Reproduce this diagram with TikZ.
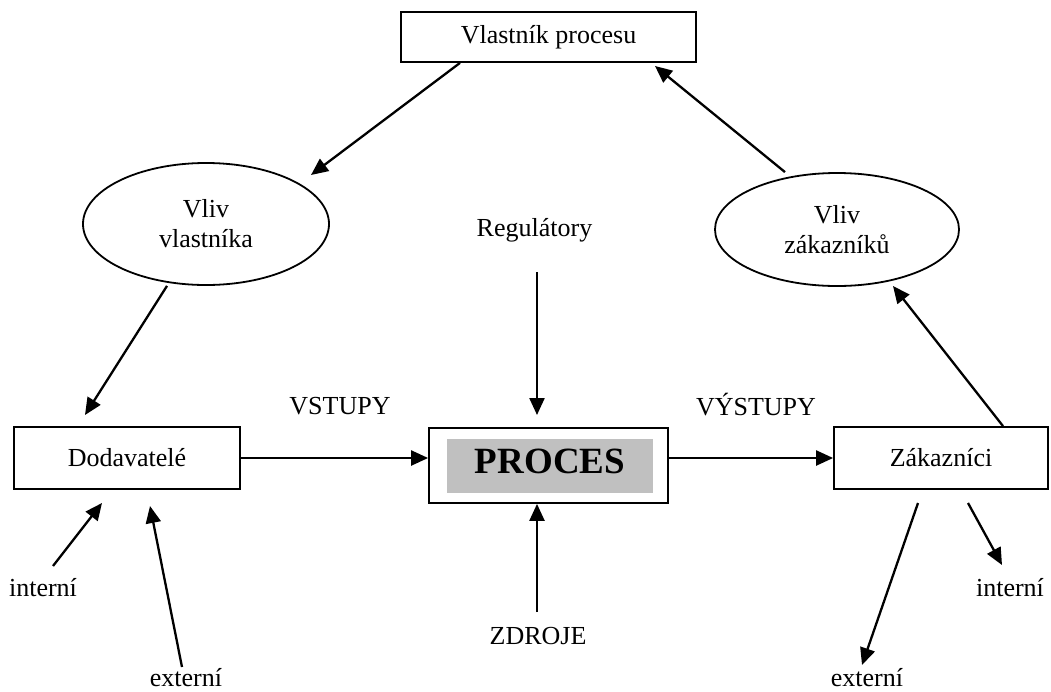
\documentclass[tikz,border=0pt]{standalone}
\usepackage{fontspec}
\setmainfont{Liberation Serif}
\usetikzlibrary{arrows.meta,shapes.geometric}
\definecolor{procgray}{HTML}{C0C0C0}
\begin{document}
\begin{tikzpicture}[x=1pt,y=-1pt,
  arr/.style={-{Triangle[length=17pt,width=15pt]}, line width=2.3pt},
  box/.style={draw, rectangle, line width=1.8pt, inner sep=0pt},
  oval/.style={draw, ellipse, line width=1.8pt, inner sep=0pt, align=center},
  lbl/.style={inner sep=0pt},
  every node/.style={font=\fontsize{26}{30}\selectfont}]
\useasboundingbox (0,0) rectangle (1051,691);

% nodes
\node[box, minimum width=295pt, minimum height=50pt] (own) at (548.5,37) {Vlastník procesu};
\node[oval, minimum width=246pt, minimum height=122pt] (vv) at (206,224) {Vliv\\vlastníka};
\node[oval, minimum width=244pt, minimum height=113pt] (vz) at (837,229.5) {Vliv\\zákazníků};
\node[box, minimum width=226pt, minimum height=62pt] (dod) at (127,458) {Dodavatelé};
\node[box, minimum width=214pt, minimum height=62pt] (zak) at (941,458) {Zákazníci};
\node[box, minimum width=239pt, minimum height=75pt] (proc) at (548.5,465.5) {};
\node[fill=procgray, inner sep=0pt, minimum width=206pt, minimum height=54pt,
      text depth=9pt, font=\fontsize{37}{40}\selectfont\bfseries] (procin) at (550,466) {PROCES};

% labels
\node[lbl] (reg) at (534.5,230) {Regulátory};
\node[lbl] (vst) at (340,406) {VSTUPY};
\node[lbl] (vyst) at (756,405) {VÝSTUPY};
\node[lbl] (zdr) at (538,636) {ZDROJE};
\node[lbl] (il) at (43,588) {interní};
\node[lbl] (el) at (186,678) {externí};
\node[lbl] (ir) at (1010,588) {interní};
\node[lbl] (er) at (867,678) {externí};

% free ends
\coordinate (c1) at (311,175);
\coordinate (c2) at (655,66);
\coordinate (c3) at (85,415);
\coordinate (c4) at (893,286);
\coordinate (regS) at (537,272);
\coordinate (regE) at (537,415);
\coordinate (zdrS) at (537,612);
\coordinate (ilS) at (53,566);
\coordinate (ilE) at (102,503);
\coordinate (elS) at (182,667);
\coordinate (elE) at (150,506);
\coordinate (erS) at (918,503);
\coordinate (erE) at (862,665);
\coordinate (irS) at (968,503);
\coordinate (irE) at (1002,565);

% connectors
\draw[arr] ([xshift=-88.5pt]own.south) -- (c1);
\draw[arr] ([xshift=-52pt]vz.north) -- (c2);
\draw[arr] ([xshift=-39pt]vv.south) -- (c3);
\draw[arr] ([xshift=62pt]zak.north) -- (c4);
\draw[arr] (dod.east) -- (dod.east -| proc.west);
\draw[arr] (proc.east |- zak.west) -- (zak.west);
\draw[arr] (regS) -- (regE);
\draw[arr] (zdrS) -- ([xshift=-11.5pt]proc.south);
\draw[arr] (ilS) -- (ilE);
\draw[arr] (elS) -- (elE);
\draw[arr] (erS) -- (erE);
\draw[arr] (irS) -- (irE);
\end{tikzpicture}
\end{document}
